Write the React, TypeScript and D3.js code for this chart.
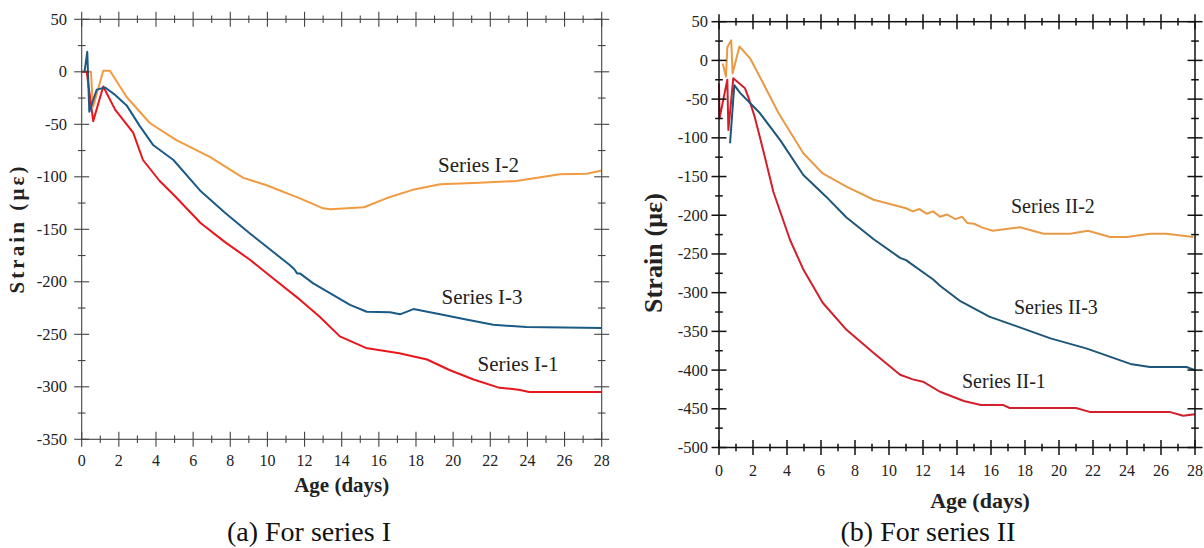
import React from "react";
import * as d3 from "d3";

// ---------- tick labels ----------
const ageTicks = [0, 2, 4, 6, 8, 10, 12, 14, 16, 18, 20, 22, 24, 26, 28];
const ageMinorTicks = [1, 3, 5, 7, 9, 11, 13, 15, 17, 19, 21, 23, 25, 27];
const strainTicksI = [50, 0, -50, -100, -150, -200, -250, -300, -350];
const strainMinorI = [25, -25, -75, -125, -175, -225, -275, -325];
const strainTicksII = [50, 0, -50, -100, -150, -200, -250, -300, -350, -400, -450, -500];
const strainMinorII = [25, -25, -75, -125, -175, -225, -275, -325, -375, -425, -475];

// ---------- Series I ----------
const seriesI1Days = [0, 0.27, 0.62, 1.16, 1.8, 2.77, 3.3, 4.2, 5.0, 6.4, 7.7, 9.06, 10.4, 11.75, 12.8, 13.9, 15.3, 17.1, 18.6, 19.8, 21.1, 22.5, 23.2, 23.6, 24.1, 28];
const seriesI1Strain = [0, 0, -47, -14, -36, -58, -84, -104, -118, -144, -162, -179, -198, -217, -233, -252, -263, -268, -274, -284, -293, -301, -302, -303, -305, -305];

const seriesI3Days = [0.15, 0.3, 0.41, 0.81, 1.26, 1.8, 2.42, 3.14, 3.86, 4.94, 6.37, 7.7, 9.06, 10.2, 11.2, 11.45, 11.6, 11.75, 12.47, 13.55, 14.45, 15.35, 16.6, 17.14, 17.86, 19.3, 20.7, 22.16, 23.95, 28];
const seriesI3Strain = [0, 19, -38, -17, -15, -22, -32, -52, -70, -84, -113, -134, -154, -170, -184, -188, -192, -192, -201.5, -212.6, -222, -228.5, -229, -231, -226, -231, -236, -241, -243, -244];

const seriesI2Days = [0, 0.5, 0.56, 0.62, 1.16, 1.52, 2.42, 3.68, 5.1, 6.9, 8.7, 9.96, 11.75, 13.0, 13.4, 15.2, 16.4, 17.9, 19.3, 21.4, 23.4, 25.75, 27.2, 28];
const seriesI2Strain = [0, 0, -20, -33, 1, 1, -24, -49, -65, -81, -101, -108, -120.5, -130, -131, -129, -120.5, -112, -107, -105.6, -104, -97.6, -97, -94];

// ---------- Series II ----------
const seriesII1Days = [0, 0.03, 0.49, 0.55, 0.84, 1.53, 1.72, 2.1, 2.6, 3.2, 4.18, 4.96, 6.1, 7.5, 9.1, 10.65, 11.4, 12.0, 13.0, 14.4, 15.4, 16.7, 17.1, 21.0, 21.8, 26.5, 27.3, 28];
const seriesII1Strain = [-30, -75, -25, -90, -23, -36, -47, -73, -116, -170, -232, -270, -313, -348, -378, -406, -412, -415, -428, -440, -445, -445, -449, -449, -454, -454, -459, -457];

const seriesII3Days = [0.65, 0.9, 1.24, 2.4, 3.6, 4.96, 6.3, 7.5, 9.1, 10.65, 11.0, 12.6, 13.0, 14.2, 15.9, 18.1, 19.5, 21.6, 24.2, 25.35, 27.5, 28];
const seriesII3Strain = [-107, -32, -42, -68, -103, -148, -176, -203, -231, -255, -258, -283, -291, -311, -331, -348, -359, -372, -392, -396, -396, -400];

const seriesII2Days = [0.22, 0.41, 0.49, 0.72, 0.8, 1.2, 1.82, 2.4, 3.5, 4.96, 6.1, 7.5, 9.1, 11.0, 11.4, 11.8, 12.2, 12.6, 13.0, 13.4, 13.9, 14.3, 14.6, 15.0, 15.5, 16.1, 17.7, 19.1, 20.65, 21.7, 23.0, 24.0, 25.35, 26.3, 27.9];
const seriesII2Strain = [-4, -21, 17, 26, -17, 18, 3, -21, -68, -120, -146, -163, -180, -191, -195, -192, -198, -195, -202, -199, -205, -202, -210, -211, -216, -220, -215.5, -224, -224, -220, -228, -228, -224, -224, -228];

type Series = { days: number[]; strain: number[]; color: string };
type Label = { text: string; x: number; y: number };

const FONT = '"Liberation Serif", Tinos, "Times New Roman", "DejaVu Serif", serif';

function Panel(props: {
  px0: number; px1: number; py0: number; py1: number;
  yMax: number; yMin: number;
  yTicks: number[]; yMinor: number[];
  series: Series[]; labels: Label[]; labelSize: number;
  axisColor: string; axisWidth: number;
  xLabelBase: number; yLabelEnd: number;
  xTitle: { x: number; y: number; size: number };
  yTitle: { x: number; y: number; size: number; len: number };
  caption: { text: string; x: number; y: number };
}) {
  const p = props;
  const x = d3.scaleLinear().domain([0, 28]).range([p.px0, p.px1]);
  const y = d3.scaleLinear().domain([p.yMin, p.yMax]).range([p.py1, p.py0]);
  const line = d3.line<[number, number]>().x((d) => x(d[0])).y((d) => y(d[1]));
  const maj = 7.5, min = 3.8;
  const ac = p.axisColor, aw = p.axisWidth;
  const tf = { fontFamily: FONT };
  return (
    <g>
      {p.series.map((s, i) => (
        <path key={i} d={line(s.days.map((d, j) => [d, s.strain[j]]) as [number, number][]) || ""}
          fill="none" stroke={s.color} strokeWidth={2} strokeLinejoin="round" />
      ))}
      <rect x={p.px0} y={p.py0} width={p.px1 - p.px0} height={p.py1 - p.py0} fill="none" stroke={ac} strokeWidth={aw} />
      {ageTicks.map((t) => (
        <g key={"xt" + t}>
          <line x1={x(t)} x2={x(t)} y1={p.py1 - maj} y2={p.py1 + maj} stroke={ac} strokeWidth={aw} />
          <line x1={x(t)} x2={x(t)} y1={p.py0 - maj} y2={p.py0 + maj} stroke={ac} strokeWidth={aw} />
          <text x={x(t)} y={p.xLabelBase} textAnchor="middle" fontSize={16} style={tf} fill="#222">{t}</text>
        </g>
      ))}
      {ageMinorTicks.map((t) => (
        <g key={"xm" + t}>
          <line x1={x(t)} x2={x(t)} y1={p.py1 - min} y2={p.py1 + min} stroke={ac} strokeWidth={aw} />
          <line x1={x(t)} x2={x(t)} y1={p.py0 - min} y2={p.py0 + min} stroke={ac} strokeWidth={aw} />
        </g>
      ))}
      {p.yTicks.map((t) => (
        <g key={"yt" + t}>
          <line x1={p.px0 - maj} x2={p.px0 + maj} y1={y(t)} y2={y(t)} stroke={ac} strokeWidth={aw} />
          <line x1={p.px1 - maj} x2={p.px1 + maj} y1={y(t)} y2={y(t)} stroke={ac} strokeWidth={aw} />
          <text x={p.yLabelEnd} y={y(t) + 5.5} textAnchor="end" fontSize={16.5} style={tf} fill="#222">{t}</text>
        </g>
      ))}
      {p.yMinor.map((t) => (
        <g key={"ym" + t}>
          <line x1={p.px0 - min} x2={p.px0 + min} y1={y(t)} y2={y(t)} stroke={ac} strokeWidth={aw} />
          <line x1={p.px1 - min} x2={p.px1 + min} y1={y(t)} y2={y(t)} stroke={ac} strokeWidth={aw} />
        </g>
      ))}
      {p.labels.map((l) => (
        <text key={l.text} x={l.x} y={l.y} fontSize={p.labelSize} style={tf} fill="#222">{l.text}</text>
      ))}
      <text x={p.xTitle.x} y={p.xTitle.y} textAnchor="middle" fontWeight="bold" fontSize={p.xTitle.size} style={tf} fill="#222">Age (days)</text>
      <text transform={`translate(${p.yTitle.x},${p.yTitle.y}) rotate(-90)`} textAnchor="middle" fontWeight="bold"
        fontSize={p.yTitle.size} style={tf} fill="#222" textLength={p.yTitle.len} lengthAdjust="spacing">Strain (με)</text>
      <text x={p.caption.x} y={p.caption.y} textAnchor="middle" fontSize={28} style={tf} fill="#111">{p.caption.text}</text>
    </g>
  );
}

export default function App() {
  return (
    <svg width={1204} height={548} style={{ position: "absolute", left: 0, top: 0, background: "#fff" }}>
      <rect width={1204} height={548} fill="#fff" />
      <Panel
        px0={81.7} px1={601.7} py0={19.3} py1={439.3} yMax={50} yMin={-350}
        yTicks={strainTicksI} yMinor={strainMinorI}
        series={[
          { days: seriesI2Days, strain: seriesI2Strain, color: "#f29a40" },
          { days: seriesI1Days, strain: seriesI1Strain, color: "#e8161d" },
          { days: seriesI3Days, strain: seriesI3Strain, color: "#1b5a86" },
        ]}
        labels={[
          { text: "Series I-2", x: 438, y: 172 },
          { text: "Series I-3", x: 441.5, y: 304 },
          { text: "Series I-1", x: 477.5, y: 370.5 },
        ]}
        labelSize={21}
        axisColor="#444" axisWidth={1.1}
        xLabelBase={466} yLabelEnd={67}
        xTitle={{ x: 341.7, y: 492, size: 21 }}
        yTitle={{ x: 24, y: 230, size: 21, len: 127 }}
        caption={{ text: "(a) For series I", x: 309, y: 541 }}
      />
      <Panel
        px0={719} px1={1195} py0={21.7} py1={447.5} yMax={50} yMin={-500}
        yTicks={strainTicksII} yMinor={strainMinorII}
        series={[
          { days: seriesII2Days, strain: seriesII2Strain, color: "#e99a46" },
          { days: seriesII1Days, strain: seriesII1Strain, color: "#d21f2b" },
          { days: seriesII3Days, strain: seriesII3Strain, color: "#1d5678" },
        ]}
        labels={[
          { text: "Series II-2", x: 1011, y: 213 },
          { text: "Series II-3", x: 1014, y: 314 },
          { text: "Series II-1", x: 962, y: 388 },
        ]}
        labelSize={20}
        axisColor="#111" axisWidth={1.5}
        xLabelBase={475.5} yLabelEnd={708}
        xTitle={{ x: 980, y: 508, size: 22 }}
        yTitle={{ x: 662, y: 253, size: 26, len: 120 }}
        caption={{ text: "(b) For series II", x: 928, y: 541 }}
      />
    </svg>
  );
}
